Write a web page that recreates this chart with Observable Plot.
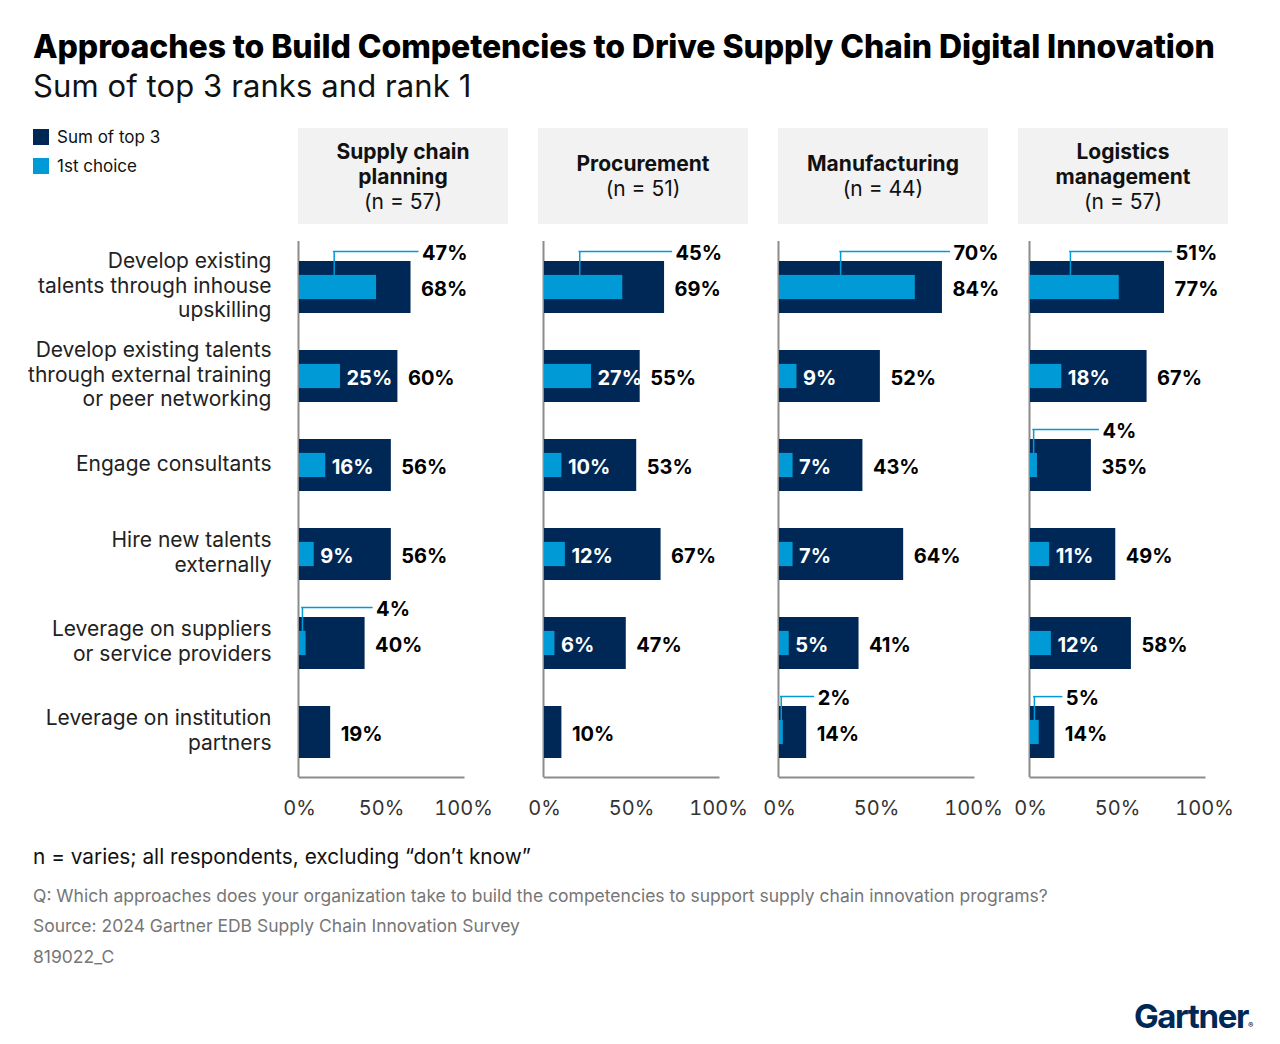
<!DOCTYPE html>
<html>
<head>
<meta charset="utf-8">
<script src="https://cdn.jsdelivr.net/npm/d3@7"></script>
<script src="https://cdn.jsdelivr.net/npm/@observablehq/plot@0.6"></script>
<style>
  body { margin: 0; background: #fff; font-family: Inter, "Noto Sans", sans-serif; color: #111; }
  #chart { position: relative; width: 1280px; height: 1044px; overflow: hidden; background: #fff; }
  .abs { position: absolute; white-space: nowrap; }
  .title { left: 33px; top: 28px; font-size: 32px; line-height: 38px; font-weight: 800; letter-spacing: -0.1px; color: #000; }
  .subtitle { left: 33px; top: 68px; font-size: 31px; line-height: 36px; font-weight: 400; letter-spacing: 0.1px; color: #111; }
  .legend-item { left: 33px; font-size: 17px; line-height: 20px; display: flex; align-items: center; color: #111; }
  .legend-item span.sw { width: 16px; height: 16px; margin-right: 8px; display: inline-block; }
  .header { top: 128px; width: 210px; height: 96px; background: #f2f2f2; display: flex; flex-direction: column;
            justify-content: center; align-items: center; text-align: center; font-size: 21px; line-height: 25px; color: #111; }
  .header b { font-weight: 700; white-space: pre-line; }
  .panel { top: 230px; }
  .note { left: 33px; top: 845px; font-size: 20.8px; line-height: 24px; color: #111; }
  .fine { left: 33px; font-size: 17.5px; line-height: 20px; color: #767676; }
  .logo { left: 1134px; top: 996px; font-size: 33px; line-height: 40px; font-weight: 700; letter-spacing: -1.4px; color: #002856; }
</style>
</head>
<body>
<div id="chart"></div>
<script>
// Survey categories (row labels, wrapped as they are drawn)
const approaches = [
  "Develop existing\ntalents through inhouse\nupskilling",
  "Develop existing talents\nthrough external training\nor peer networking",
  "Engage consultants",
  "Hire new talents\nexternally",
  "Leverage on suppliers\nor service providers",
  "Leverage on institution\npartners"
];

// Business functions and sample sizes
const functions = ["Supply chain\nplanning", "Procurement", "Manufacturing", "Logistics\nmanagement"];
const sampleSizes = [57, 51, 44, 57];

// Sum of top 3 ranks (%)
const top3SupplyChainPlanning = [68, 60, 56, 56, 40, 19];
const top3Procurement         = [69, 55, 53, 67, 47, 10];
const top3Manufacturing       = [84, 52, 43, 64, 41, 14];
const top3Logistics           = [77, 67, 35, 49, 58, 14];

// 1st choice (%)
const firstSupplyChainPlanning = [47, 25, 16, 9, 4, null];
const firstProcurement         = [45, 27, 10, 12, 6, null];
const firstManufacturing       = [70, 9, 7, 7, 5, 2];
const firstLogistics           = [51, 18, 4, 11, 12, 5];

const xTicks = [0, 50, 100];

const NAVY = "#002856";
const BLUE = "#009ad7";
const AXIS = "#8c8c8c";

const seriesTop3 = [top3SupplyChainPlanning, top3Procurement, top3Manufacturing, top3Logistics];
const seriesFirst = [firstSupplyChainPlanning, firstProcurement, firstManufacturing, firstLogistics];

const chart = document.getElementById("chart");
function addDiv(cls, html, style = {}) {
  const d = document.createElement("div");
  d.className = "abs " + cls;
  d.innerHTML = html;
  Object.assign(d.style, style);
  chart.appendChild(d);
  return d;
}

// Title block
addDiv("title", "Approaches to Build Competencies to Drive Supply Chain Digital Innovation");
addDiv("subtitle", "Sum of top 3 ranks and rank 1");

// Legend
addDiv("legend-item", `<span class="sw" style="background:${NAVY}"></span>Sum of top 3`, {top: "127px"});
addDiv("legend-item", `<span class="sw" style="background:${BLUE}"></span>1st choice`, {top: "156px"});

// Panel geometry: left edge of the svg, pixel of 0%, width of the 0–100% span
const panels = [
  {left: 0,    zero: 299,  span: 164, headerLeft: 298},
  {left: 520,  zero: 544,  span: 174, headerLeft: 538},
  {left: 755,  zero: 779,  span: 194, headerLeft: 778},
  {left: 1006, zero: 1030, span: 174, headerLeft: 1018}
];

const plotTop = 230, frameTop = 241, frameBottom = 777, plotHeight = 600;
const step = (frameBottom - frameTop) / approaches.length;
const padInner = 0.42;
const bw = step * (1 - padInner);
const innerInset = (bw - 24) / 2;

panels.forEach((p, f) => {
  // Header box
  addDiv("header", `<b>${functions[f]}</b><span>(n = ${sampleSizes[f]})</span>`, {left: p.headerLeft + "px"});

  const rows = approaches.map((cat, i) => ({cat, row: i, top: seriesTop3[f][i], first: seriesFirst[f][i]}));
  const withFirst = rows.filter(d => d.first != null);
  // First row and small or last-row values get a leader-line callout above the bar
  const callouts = withFirst.filter(d => d.row === 0 || d.row === approaches.length - 1 || d.first < 5);
  const inside = withFirst.filter(d => !callouts.includes(d));
  const leaderX = d => d.first * 0.45;

  const marginLeft = p.zero - p.left;
  const marginRight = 50;

  const marks = [
    Plot.ruleX([0], {stroke: AXIS, strokeWidth: 2, dx: -1}),
    Plot.frame({anchor: "bottom", stroke: AXIS, strokeWidth: 2}),
    Plot.barX(rows, {x: "top", y: "cat", fill: NAVY}),
    Plot.barX(withFirst, {x: "first", y: "cat", fill: BLUE, insetTop: innerInset, insetBottom: innerInset}),
    // leader: vertical part from the 1st-choice bar up above the bar, then across to the label
    Plot.tickX(callouts, {x: leaderX, y: "cat", insetTop: -10, insetBottom: bw - innerInset,
                          stroke: BLUE, strokeWidth: 1.5}),
    Plot.ruleY(callouts, {y: "cat", x1: leaderX, x2: "top", dy: -(bw / 2 + 10), insetLeft: -0.75, insetRight: -8,
                          stroke: BLUE, strokeWidth: 1.5}),
    Plot.text(rows, {x: "top", y: "cat", text: d => d.top + "%", dx: 10, dy: 2, textAnchor: "start",
                     fontSize: 20, fontWeight: 700, fill: "#000"}),
    Plot.text(inside, {x: "first", y: "cat", text: d => d.first + "%", dx: 6, dy: 2, textAnchor: "start",
                       fontSize: 20, fontWeight: 700, fill: "#fff"}),
    Plot.text(callouts, {x: "top", y: "cat", text: d => d.first + "%", dx: 11, dy: -(bw / 2 + 8), textAnchor: "start",
                         fontSize: 20, fontWeight: 700, fill: "#000"}),
    Plot.axisX({ticks: xTicks, tickFormat: d => d + "%", tickSize: 0, tickPadding: 23, fontSize: 20,
                color: "#333", fontWeight: 400})
  ];
  if (f === 0) {
    marks.push(Plot.text(approaches, {y: d => d, frameAnchor: "left", dx: -28, dy: -3, textAnchor: "end",
                                       lineHeight: 1.19, fontSize: 21, fill: "#222"}));
  }

  const svg = Plot.plot({
    width: marginLeft + p.span + marginRight,
    height: plotHeight,
    marginLeft,
    marginRight,
    marginTop: frameTop - plotTop,
    marginBottom: plotTop + plotHeight - frameBottom,
    x: {domain: [0, 100], axis: null},
    y: {domain: approaches, paddingInner: padInner, paddingOuter: padInner / 2, axis: null},
    style: {fontFamily: "Inter, 'Noto Sans', sans-serif", background: "transparent", overflow: "visible"},
    marks
  });
  const wrap = document.createElement("div");
  wrap.className = "abs panel";
  wrap.style.left = p.left + "px";
  wrap.appendChild(svg);
  chart.appendChild(wrap);
});

// Notes and source
addDiv("note", "n = varies; all respondents, excluding “don’t know”");
addDiv("fine", "Q: Which approaches does your organization take to build the competencies to support supply chain innovation programs?", {top: "886px"});
addDiv("fine", "Source: 2024 Gartner EDB Supply Chain Innovation Survey", {top: "916px"});
addDiv("fine", "819022_C", {top: "947px"});
addDiv("logo", "Gartner<span style=\"font-size:8px;letter-spacing:0\">®</span>");
</script>
</body>
</html>
